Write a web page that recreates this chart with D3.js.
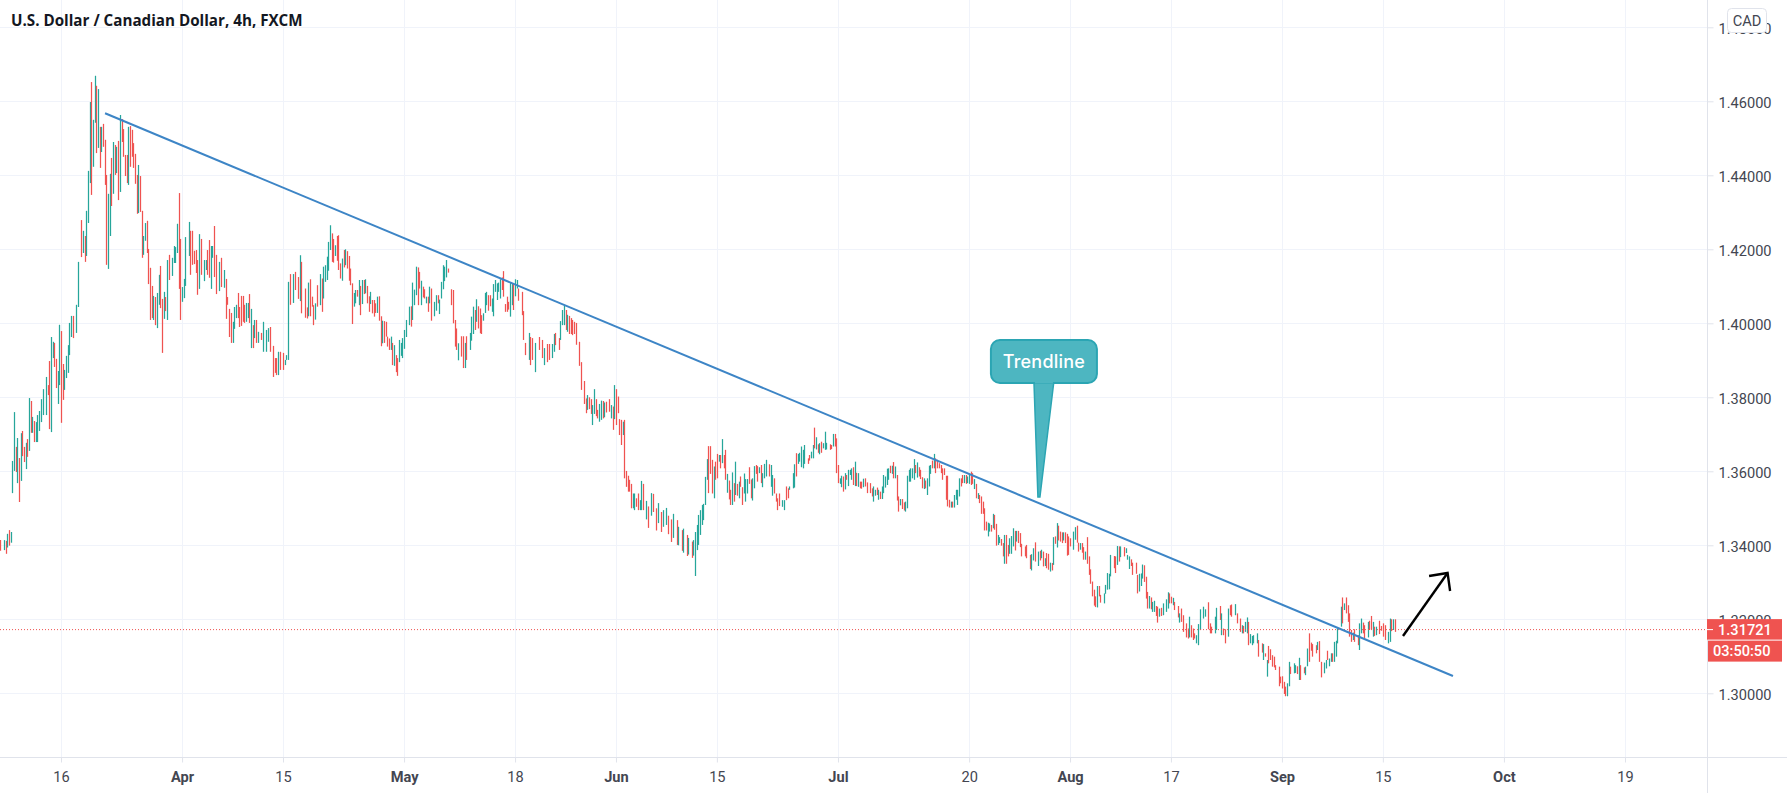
<!doctype html>
<meta charset="utf-8"/>
<title>USDCAD 4h</title>
<style>
body { margin: 0; background: #fff; }
text { font-family: Roboto, sans-serif; }
</style>
<svg id="chart" width="1787" height="793"></svg>
<script src="https://cdn.jsdelivr.net/npm/d3@7"></script>
<script>
// bar rows: [bar number, high, low, up] - prices in pips above 1.0000
var marchBars = [[0,3414,3385,0],[2,3414,3387,1],[3,3412,3377,0],[4,3431,3394,1],[5,3441,3399,0],[6,3436,3407,1],[7,3628,3541,1],[8,3760,3601,1],[9,3666,3598,0],[10,3690,3568,1],[11,3636,3517,0],[12,3703,3574,1],[13,3709,3641,0],[14,3666,3625,0],[15,3677,3606,1],[16,3687,3639,0],[17,3798,3655,1],[18,3790,3704,0],[19,3747,3704,1],[20,3736,3679,0],[21,3733,3679,1],[22,3752,3679,1],[23,3763,3709,1],[24,3795,3733,1],[25,3822,3752,1],[27,3855,3752,1],[28,3833,3806,0],[29,3898,3714,0],[30,3963,3706,1],[31,3950,3906,1],[32,3947,3882,0],[33,3904,3825,0],[34,3871,3782,1],[35,3996,3833,1],[36,3979,3731,0],[37,3890,3793,0],[38,3874,3820,1],[39,3912,3852,1],[40,3941,3866,1],[41,4001,3914,1],[42,4020,3963,1],[43,4020,3960,0],[45,4050,3974,1],[46,4166,4044,1],[48,4279,4179,0],[49,4250,4190,1],[50,4236,4166,0],[51,4304,4182,1],[52,4412,4271,1],[53,4598,4379,1],[54,4652,4347,0],[55,4550,4423,1],[56,4669,4542,1],[57,4642,4460,0],[58,4633,4474,1],[59,4531,4420,0],[60,4531,4463,1],[61,4539,4477,0],[62,4496,4374,0],[63,4401,4158,0],[64,4350,4147,1],[65,4404,4236,1],[66,4447,4317,0],[67,4490,4350,1],[68,4482,4401,0],[69,4477,4406,1],[70,4493,4333,0],[71,4563,4355,1],[72,4552,4490,0],[73,4525,4450,0],[74,4455,4398,0],[75,4455,4379,0],[76,4531,4374,1],[77,4533,4423,0],[78,4523,4450,0],[79,4487,4420,0],[80,4458,4377,0],[81,4401,4296,0],[82,4428,4298,1],[83,4398,4301,0],[84,4304,4177,0],[85,4236,4185,1],[86,4271,4223,1],[87,4277,4190,0],[88,4201,4106,0],[89,4150,4009,0],[90,4101,4014,0],[91,4074,4009,1],[92,4071,3995,0],[93,4082,3987,1],[94,4131,4050,1],[95,4155,4041,0],[96,4066,3920,0],[97,4085,4012,1],[98,4071,4033,0],[99,4171,4009,1],[100,4185,4117,0],[102,4177,4128,1],[103,4209,4163,1],[104,4206,4163,1],[105,4269,4190,1],[106,4352,4093,0],[107,4228,4009,0]];
var aprilBars = [[108,4098,4058,1],[109,4120,4068,1],[110,4233,4101,1],[112,4274,4182,1],[113,4250,4131,0],[114,4250,4158,0],[115,4196,4160,0],[116,4198,4136,0],[117,4171,4077,0],[118,4241,4093,1],[119,4228,4131,0],[121,4171,4114,1],[122,4171,4144,1],[123,4198,4131,0],[124,4225,4123,0],[125,4209,4093,1],[126,4209,4177,1],[127,4263,4125,0],[128,4185,4079,0],[130,4166,4087,1],[131,4177,4098,0],[133,4144,4096,1],[134,4120,4012,0],[135,4071,4050,0],[136,4039,3963,0],[137,4028,3947,0],[138,4004,3947,1],[139,4044,3985,1],[140,4050,4014,1],[141,4082,4014,0],[142,4044,3990,0],[143,4074,3993,0],[144,4074,4004,0],[145,4050,4001,0],[146,4055,4004,1],[147,4055,4014,1],[148,4079,4001,0],[149,4039,3933,1],[150,3995,3933,0],[151,4009,3960,1],[152,4009,3947,0],[153,3977,3947,1],[155,3974,3955,0],[156,4004,3923,1],[158,3982,3923,1],[159,3987,3950,1],[160,3990,3923,0],[162,3939,3855,0],[163,3906,3866,0],[164,3906,3860,0],[165,3923,3860,1],[166,3923,3874,0],[168,3920,3874,0],[169,3901,3887,1],[170,3914,3901,1],[171,4112,3901,1],[172,4133,4050,0],[174,4133,4055,1],[175,4139,4090,0],[177,4125,4066,0],[178,4184,4060,1],[179,4166,4027,0],[181,4094,4015,0],[182,4043,4013,0],[183,4110,4019,1],[184,4119,4019,0],[185,4072,4045,0],[186,4049,3995,0],[187,4054,4010,1],[188,4103,4045,0],[190,4133,4049,1],[191,4121,4031,0],[192,4153,4067,1],[193,4157,4112,1],[194,4180,4117,1],[195,4220,4142,1],[196,4265,4198,1],[197,4243,4166,0],[198,4228,4164,0],[199,4211,4182,1],[200,4236,4169,0],[201,4238,4144,0],[202,4162,4121,0],[203,4175,4115,1],[204,4198,4151,0],[205,4200,4157,1],[206,4195,4148,0],[207,4182,4115,0],[208,4148,4103,0],[209,4108,3998,0],[210,4082,4045,1],[211,4090,4054,1],[212,4090,4072,0],[213,4117,4049,1],[214,4101,4022,0],[215,4117,4052,1],[216,4117,4079,0],[217,4119,4081,1],[218,4101,4054,0],[219,4073,4031,0],[220,4085,4052,1],[221,4063,4027,0],[222,4063,4018,0],[223,4054,4028,0],[224,4072,4028,1],[225,4073,4007,0],[226,4019,3938,0],[227,4007,3946,1],[228,4006,3947,0],[229,4004,3964,0],[230,3964,3937,0],[231,3959,3928,0],[232,3964,3928,1],[233,3947,3887,0],[234,3941,3885,1],[235,3914,3868,0],[236,3906,3858,0],[237,3955,3895,1],[238,3947,3912,1],[239,3960,3906,1]];
var mayBars = [[240,3982,3931,1],[241,4009,3963,1],[243,4045,3995,1],[244,4046,3991,0],[245,4110,4009,1],[246,4091,4049,1],[247,4153,4076,1],[248,4151,4049,0],[249,4139,4094,0],[250,4115,4049,1],[251,4099,4070,0],[252,4092,4067,0],[253,4072,4054,1],[254,4072,4031,0],[255,4099,4054,1],[256,4094,4007,0],[258,4058,4019,1],[259,4076,4034,1],[260,4076,4054,0],[261,4064,4025,1],[262,4112,4067,1],[263,4157,4092,1],[264,4153,4114,1],[265,4171,4124,1],[266,4148,4137,0],[268,4092,4049,0],[269,4090,4000,0],[270,4009,3937,0],[271,3986,3928,0],[272,3946,3900,1],[274,3965,3910,0],[275,3965,3879,0],[276,3947,3879,1],[277,3965,3901,0],[279,3974,3928,1],[280,4018,3953,1],[281,4045,3971,1],[282,4036,3982,0],[283,4065,4004,1],[284,4046,3986,0],[285,4040,3973,0],[286,4022,3971,0],[287,4027,4007,1],[288,4082,4028,1],[289,4085,4049,1],[290,4076,4034,0],[291,4076,4046,0],[292,4067,4031,1],[293,4106,4019,1],[294,4117,4085,1],[295,4108,4063,1],[296,4110,4085,1],[297,4119,4067,1],[298,4124,4090,0],[299,4141,4072,0],[300,4052,4031,0],[301,4072,4031,0],[302,4058,4037,0],[303,4110,4018,1],[304,4108,4049,1],[305,4108,4036,0],[306,4119,4073,1],[307,4117,4094,1],[308,4094,4061,0],[310,4085,4022,0],[311,4033,3955,0],[312,3947,3914,0],[314,3974,3901,1],[315,3963,3887,0],[316,3960,3901,0],[318,3947,3868,1],[320,3963,3928,0],[322,3955,3906,0],[323,3933,3887,1],[325,3944,3895,0],[326,3944,3901,0],[328,3944,3906,1],[329,3971,3923,1],[330,3974,3941,0],[332,3960,3928,0],[333,4006,3955,1],[334,4036,3995,1],[335,4050,3995,1],[336,4036,3982,0],[337,4023,3977,1],[338,4020,3971,0],[339,4014,3971,0],[340,4009,3968,0],[341,4004,3971,0],[342,4001,3942,0],[344,3950,3885,0],[345,3895,3820,0],[347,3844,3782,0],[348,3797,3757,0],[349,3806,3766,1],[350,3800,3768,0],[351,3795,3755,0],[352,3779,3725,1],[353,3822,3755,1],[354,3795,3749,0],[355,3766,3743,0],[356,3782,3734,1],[357,3791,3739,1],[358,3790,3743,0],[359,3786,3746,1],[360,3788,3759,0],[362,3795,3761,0],[363,3779,3743,1],[364,3775,3712,0],[365,3833,3741,1]];
var juneBars = [[366,3822,3725,0],[367,3802,3757,0],[368,3741,3698,0],[369,3739,3671,0],[370,3734,3698,1],[371,3739,3581,0],[372,3601,3558,0],[373,3588,3545,0],[374,3577,3545,0],[375,3566,3500,0],[376,3540,3500,1],[377,3540,3495,1],[378,3527,3504,0],[379,3540,3495,0],[380,3522,3495,1],[381,3574,3495,1],[382,3566,3495,0],[384,3520,3470,1],[385,3505,3447,0],[387,3541,3480,1],[388,3539,3490,0],[390,3500,3440,0],[391,3514,3460,1],[393,3490,3436,0],[394,3495,3450,1],[396,3501,3455,1],[397,3480,3430,0],[399,3470,3409,0],[400,3485,3420,1],[402,3468,3401,0],[403,3450,3400,1],[405,3441,3385,0],[406,3445,3380,1],[408,3428,3371,0],[409,3420,3375,1],[411,3410,3366,0],[412,3414,3372,1],[413,3436,3317,1],[414,3455,3387,1],[415,3482,3401,1],[416,3495,3428,1],[417,3509,3455,1],[418,3512,3468,1],[419,3585,3509,1],[420,3633,3577,1],[421,3668,3541,0],[422,3668,3593,0],[423,3631,3540,0],[424,3613,3527,1],[425,3626,3577,0],[426,3647,3581,0],[427,3644,3626,1],[428,3644,3608,0],[429,3687,3622,1],[430,3644,3608,0],[431,3658,3577,0],[432,3593,3542,1],[433,3575,3524,0],[434,3550,3509,0],[435,3597,3509,1],[436,3568,3518,0],[437,3626,3536,1],[438,3566,3534,0],[439,3572,3527,1],[440,3586,3558,0],[441,3557,3509,0],[442,3594,3540,1],[443,3579,3518,1],[444,3579,3540,1],[445,3611,3566,0],[446,3578,3527,0],[447,3581,3521,1],[448,3614,3554,1],[449,3617,3593,0],[450,3614,3572,0],[451,3611,3595,1],[452,3617,3568,0],[453,3595,3557,1],[454,3620,3581,1],[455,3631,3586,1],[457,3619,3586,0],[458,3617,3558,1],[459,3590,3534,1],[460,3581,3540,0],[461,3540,3518,0],[462,3527,3495,0],[463,3540,3506,0],[465,3522,3504,1],[466,3522,3495,1],[467,3559,3522,0],[468,3554,3527,0],[469,3559,3550,1],[471,3595,3554,1],[472,3619,3556,1],[473,3649,3586,0],[474,3647,3620,1],[475,3650,3626,1],[476,3667,3611,1],[477,3658,3608,1],[478,3671,3620,1],[480,3635,3620,0],[481,3644,3629,0],[482,3653,3635,1],[483,3671,3635,1],[484,3718,3662,0],[485,3692,3659,1],[486,3673,3650,0],[487,3676,3646,1],[488,3680,3650,0],[489,3676,3662,1],[490,3707,3658,1],[491,3677,3659,1],[493,3673,3658,0],[494,3671,3660,0],[495,3701,3667,1],[496,3701,3667,0],[497,3689,3595,0]];
var julyBars = [[498,3617,3568,0],[499,3581,3566,1],[500,3588,3557,1],[501,3586,3545,0],[502,3595,3551,1],[503,3590,3577,0],[504,3604,3560,1],[505,3604,3590,1],[506,3608,3577,1],[507,3611,3563,0],[508,3626,3560,1],[509,3596,3560,0],[510,3595,3558,1],[511,3572,3554,0],[512,3572,3553,0],[513,3580,3557,1],[514,3581,3559,0],[515,3570,3541,0],[517,3568,3541,0],[518,3554,3532,0],[519,3559,3518,1],[520,3550,3534,1],[521,3556,3536,0],[522,3550,3523,1],[523,3545,3525,0],[524,3559,3525,1],[525,3590,3541,1],[526,3586,3556,1],[527,3607,3563,1],[528,3608,3577,1],[529,3615,3595,0],[530,3615,3593,1],[531,3625,3581,0],[532,3613,3581,1],[533,3590,3521,0],[534,3532,3491,0],[535,3525,3508,1],[536,3525,3498,0],[537,3516,3494,0],[538,3518,3491,1],[539,3588,3500,1],[540,3604,3572,1],[541,3608,3572,1],[542,3608,3581,1],[543,3633,3577,1],[544,3617,3595,0],[545,3624,3583,1],[546,3611,3586,0],[547,3604,3579,0],[548,3584,3554,0],[549,3581,3552,1],[550,3575,3554,0],[551,3581,3536,1],[552,3615,3559,1],[553,3617,3593,1],[554,3629,3608,0],[555,3647,3608,1],[556,3635,3595,0],[557,3631,3608,0],[558,3622,3608,0],[559,3617,3595,0],[560,3608,3577,0],[561,3608,3590,0],[562,3588,3523,0],[563,3588,3505,0],[564,3523,3502,0],[565,3518,3502,1],[566,3518,3502,0],[567,3536,3502,1],[568,3550,3523,1],[569,3550,3509,1],[570,3581,3532,1],[571,3581,3559,0],[572,3590,3568,0],[573,3590,3568,1],[574,3590,3566,0],[575,3586,3568,1],[576,3590,3566,1],[577,3599,3563,0],[578,3595,3566,0],[579,3579,3552,1],[580,3566,3527,0],[581,3541,3525,1],[582,3536,3514,0],[583,3532,3485,0],[584,3518,3485,0],[585,3500,3440,0],[586,3464,3440,0],[587,3461,3424,1],[588,3459,3437,1],[589,3455,3437,0],[590,3485,3446,1],[591,3482,3442,0],[592,3458,3399,0],[593,3428,3401,1],[594,3422,3406,1],[595,3417,3399,0],[596,3406,3370,0],[597,3428,3350,1],[598,3428,3350,0],[599,3401,3370,0],[600,3419,3377,1],[601,3425,3377,1],[602,3446,3397,1],[603,3439,3386,0],[604,3439,3410,1],[605,3439,3406,0],[606,3433,3395,0],[607,3404,3370,0],[609,3397,3370,0],[610,3401,3365,0],[612,3374,3336,0],[613,3376,3332,1],[614,3392,3359,1],[615,3408,3356,0],[617,3383,3344,1],[618,3385,3359,0],[619,3388,3365,1],[620,3383,3343,0],[621,3365,3344,1],[622,3379,3338,0],[623,3377,3334,0],[624,3353,3329,1],[625,3352,3332,0],[626,3422,3347,1],[627,3424,3404,0],[628,3460,3394,1],[629,3453,3413,0],[630,3437,3410,0],[631,3435,3406,0],[632,3435,3413,1],[633,3435,3406,0],[634,3431,3372,0],[635,3424,3374,0]];
var augustBars = [[636,3419,3397,0],[638,3437,3388,1],[639,3449,3415,1],[640,3453,3407,0],[641,3407,3383,0],[642,3406,3388,1],[643,3406,3380,0],[644,3395,3361,0],[645,3383,3361,1],[646,3422,3350,0],[647,3370,3320,0],[648,3335,3296,0],[649,3302,3262,0],[650,3280,3237,0],[651,3262,3233,0],[652,3290,3232,1],[653,3290,3262,0],[654,3266,3245,0],[656,3270,3243,1],[657,3293,3269,1],[658,3325,3280,1],[659,3323,3281,1],[660,3374,3316,1],[662,3371,3338,0],[663,3370,3325,0],[664,3398,3347,1],[665,3397,3356,0],[666,3397,3368,1],[668,3395,3370,0],[669,3392,3379,1],[670,3374,3361,1],[671,3370,3336,1],[672,3362,3344,0],[673,3353,3320,0],[675,3353,3323,0],[676,3320,3270,0],[677,3323,3275,1],[678,3324,3290,1],[679,3348,3310,1],[680,3346,3301,0],[681,3315,3256,0],[682,3274,3229,0],[683,3263,3229,1],[684,3259,3227,0],[685,3247,3220,1],[686,3250,3220,1],[687,3236,3209,0],[688,3234,3191,0],[689,3229,3207,1],[690,3231,3209,0],[691,3243,3211,1],[693,3254,3220,1],[694,3273,3229,1],[695,3270,3243,0],[696,3261,3243,0],[697,3258,3238,1],[698,3247,3225,0],[700,3236,3205,0],[701,3216,3191,1],[702,3229,3193,0],[703,3211,3166,0],[705,3189,3151,0],[706,3175,3148,0],[707,3207,3151,1],[708,3184,3151,0],[709,3175,3144,0],[710,3162,3148,0],[711,3157,3135,1],[712,3187,3130,1],[713,3227,3171,1],[715,3234,3202,1],[716,3227,3207,1],[718,3246,3173,0],[719,3189,3162,0],[720,3180,3162,0],[722,3207,3162,1],[723,3231,3171,1],[725,3236,3198,0],[726,3216,3157,1],[727,3175,3157,0],[728,3173,3135,0],[730,3229,3153,1],[731,3238,3211,0],[732,3240,3207,0],[734,3241,3211,1],[735,3216,3189,0],[737,3202,3166,0],[738,3184,3162,1],[739,3182,3162,0],[740,3193,3166,1],[741,3205,3162,1],[742,3193,3130,0],[743,3160,3135,1],[744,3155,3130,1],[745,3157,3135,1],[747,3162,3135,1],[748,3144,3099,0],[750,3135,3110,0],[751,3133,3090,1],[752,3108,3099,0],[753,3090,3045,1],[754,3128,3081,0],[755,3119,3090,0],[756,3103,3072,0],[757,3099,3070,0],[758,3076,3063,0],[760,3072,3019,0],[761,3045,3027,0]];
var septemberBars = [[762,3046,3013,0],[763,3031,2998,0],[764,3018,2992,0],[765,3027,2992,1],[766,3085,3019,1],[767,3072,3052,0],[769,3081,3054,1],[770,3076,3055,1],[771,3073,3052,0],[772,3096,3036,1],[773,3076,3036,0],[775,3070,3054,0],[776,3072,3049,1],[777,3121,3073,1],[778,3162,3085,0],[779,3137,3115,0],[780,3133,3099,0],[782,3130,3108,0],[783,3139,3117,1],[784,3141,3085,0],[785,3085,3043,0],[787,3083,3054,1],[788,3090,3067,1],[789,3115,3090,0],[790,3094,3073,1],[791,3108,3085,1],[792,3108,3085,0],[793,3139,3085,1],[794,3142,3099,1],[795,3175,3135,1],[797,3234,3180,1],[798,3259,3189,0],[799,3243,3225,1],[800,3259,3216,0],[801,3238,3193,0],[802,3216,3153,0],[803,3171,3139,0],[804,3164,3144,1],[805,3173,3139,0],[807,3157,3130,0],[808,3189,3117,1],[809,3202,3162,1],[810,3191,3162,0],[811,3184,3148,0],[813,3193,3151,1],[814,3196,3171,0],[815,3209,3173,0],[816,3193,3153,1],[817,3180,3155,0],[818,3180,3157,1],[820,3196,3160,0],[821,3182,3169,0],[822,3189,3153,0],[823,3184,3144,0],[825,3166,3135,1],[826,3202,3139,1],[827,3200,3168,0],[828,3200,3171,1],[829,3200,3166,0]];

var priceTicks = [1.30, 1.32, 1.34, 1.36, 1.38, 1.40, 1.42, 1.44, 1.46, 1.48];
var dateLabels = ["16", "Apr", "15", "May", "18", "Jun", "15", "Jul", "20", "Aug", "17", "Sep", "15", "Oct", "19"];
var dateBars = [36, 108, 168, 240, 306, 366, 426, 498, 576, 636, 696, 762, 822, 894, 966];
var months = ["Apr", "May", "Jun", "Jul", "Aug", "Sep", "Oct"];

var lastPrice = 1.31721;
var countdown = "03:50:50";

// drawings, as [bar number, price]
var trendline = [[62.2, 1.45676], [863.7, 1.30468]];
var arrowShaft = [[834, 1.31549], [860.5, 1.33251]];
var arrowHead = [[849.5, 1.33170], [860.5, 1.33251], [862, 1.32765]];
var calloutTip = [617.5, 1.35305];

var bars = [].concat(marchBars, aprilBars, mayBars, juneBars, julyBars, augustBars, septemberBars);

var W = 1787, H = 793, axisX = 1707, axisY = 757;
var svg = d3.select("#chart");

var x = d3.scaleLinear().domain([36, 966]).range([61, 1625]);
var y = d3.scaleLinear().domain([1.28278, 1.48738]).range([axisY, 0]);
var line = d3.line().x(function(d) { return x(d[0]); }).y(function(d) { return y(d[1]); });

var UP = "#26a69a", DOWN = "#ef5350", GRID = "#f0f3fa", AXIS = "#e0e3eb", TEXT = "#434651";

// grid
svg.append("g").selectAll("line").data(priceTicks).join("line")
  .attr("x1", 0).attr("x2", axisX)
  .attr("y1", function(d) { return Math.round(y(d)) + 0.5; })
  .attr("y2", function(d) { return Math.round(y(d)) + 0.5; })
  .attr("stroke", GRID);
svg.append("g").selectAll("line").data(dateBars).join("line")
  .attr("x1", function(d) { return Math.round(x(d)) + 0.5; })
  .attr("x2", function(d) { return Math.round(x(d)) + 0.5; })
  .attr("y1", 0).attr("y2", axisY)
  .attr("stroke", GRID);

// candles, too narrow here to show a body apart from the wick
svg.append("g").selectAll("line").data(bars).join("line")
  .attr("x1", function(d) { return Math.round(x(d[0])) + 0.5; })
  .attr("x2", function(d) { return Math.round(x(d[0])) + 0.5; })
  .attr("y1", function(d) { return y(1 + d[1] / 10000); })
  .attr("y2", function(d) { return y(1 + d[2] / 10000); })
  .attr("stroke", function(d) { return d[3] ? UP : DOWN; })
  .attr("stroke-width", 1.25);

// last price line
svg.append("line")
  .attr("x1", 0).attr("x2", axisX)
  .attr("y1", y(lastPrice)).attr("y2", y(lastPrice))
  .attr("stroke", DOWN)
  .attr("stroke-dasharray", "1 2");

// trendline and arrow
svg.append("path").attr("d", line(trendline))
  .attr("fill", "none").attr("stroke", "#3d85c6").attr("stroke-width", 2);
svg.append("path").attr("d", line(arrowShaft))
  .attr("fill", "none").attr("stroke", "#000").attr("stroke-width", 2.4);
svg.append("path").attr("d", line(arrowHead))
  .attr("fill", "none").attr("stroke", "#000").attr("stroke-width", 2.4);

// callout
var tipX = x(calloutTip[0]), tipY = y(calloutTip[1]);
var callout = svg.append("g").attr("transform", "translate(" + tipX + "," + tipY + ")");
callout.append("path")
  .attr("d", "M-5,-116 L15,-116 L1,0 L-1,0 Z")
  .attr("fill", "#4db6c1").attr("stroke", "#2ba5b3").attr("stroke-width", 1.5);
callout.append("rect")
  .attr("x", -48).attr("y", -157).attr("width", 106).attr("height", 43).attr("rx", 9)
  .attr("fill", "#4db6c1").attr("stroke", "#2ba5b3").attr("stroke-width", 2);
callout.append("path")
  .attr("d", "M-4,-115 L14,-115").attr("stroke", "#4db6c1").attr("stroke-width", 3);
callout.append("text")
  .attr("x", 5).attr("y", -129)
  .attr("text-anchor", "middle")
  .attr("fill", "#fff")
  .style("font-family", "Inter")
  .style("font-weight", 500)
  .style("font-size", "18px")
  .style("letter-spacing", "0.2px")
  .text("Trendline");

// price axis
svg.append("line").attr("x1", axisX + 0.5).attr("x2", axisX + 0.5).attr("y1", 0).attr("y2", H).attr("stroke", AXIS);
var yAxis = d3.axisRight(y).tickValues(priceTicks).tickSize(6).tickPadding(5).tickFormat(d3.format(".5f"));
var yg = svg.append("g").attr("transform", "translate(" + (axisX + 0.5) + ",0)").call(yAxis);
yg.select(".domain").remove();
yg.selectAll("line").attr("stroke", AXIS);
yg.selectAll("text").attr("fill", TEXT).attr("dy", "0.42em").style("font-size", "14.6px");

// date axis
svg.append("line").attr("x1", 0).attr("x2", W).attr("y1", axisY + 0.5).attr("y2", axisY + 0.5).attr("stroke", AXIS);
var xAxis = d3.axisBottom(x).tickValues(dateBars).tickSize(5).tickPadding(9)
  .tickFormat(function(d, i) { return dateLabels[i]; });
var xg = svg.append("g").attr("transform", "translate(0," + (axisY + 0.5) + ")").call(xAxis);
xg.select(".domain").remove();
xg.selectAll("line").attr("stroke", AXIS);
xg.selectAll("text").attr("fill", TEXT).style("font-size", "14.6px")
  .style("font-weight", function(d, i) { return months.indexOf(dateLabels[i]) >= 0 ? 700 : 400; });

// last price and countdown tags
svg.append("rect").attr("x", axisX).attr("y", y(lastPrice) - 10.5).attr("width", 75).attr("height", 20.5).attr("fill", DOWN);
svg.append("rect").attr("x", axisX + 1).attr("y", y(lastPrice) + 11).attr("width", 74).attr("height", 21).attr("fill", DOWN);
svg.append("line").attr("x1", axisX).attr("x2", axisX + 6).attr("y1", y(lastPrice)).attr("y2", y(lastPrice)).attr("stroke", "#fff");
svg.append("text").attr("x", axisX + 11).attr("y", y(lastPrice) + 5.3).attr("fill", "#fff")
  .style("font-size", "14.6px").style("font-weight", 500).text(d3.format(".5f")(lastPrice));
svg.append("text").attr("x", axisX + 6).attr("y", y(lastPrice) + 26.5).attr("fill", "#fff")
  .style("font-size", "14.6px").style("font-weight", 500).text(countdown);

// currency badge
svg.append("rect").attr("x", 1727.5).attr("y", 8.5).attr("width", 39).attr("height", 24).attr("rx", 4)
  .attr("fill", "#fff").attr("stroke", AXIS);
svg.append("text").attr("x", 1747).attr("y", 25.5).attr("text-anchor", "middle").attr("fill", TEXT)
  .style("font-size", "14.6px").text("CAD");

// title
svg.append("text").attr("x", 11).attr("y", 25.5).attr("fill", "#131722")
  .style("font-family", "'Open Sans'")
  .style("font-weight", 700)
  .style("font-size", "15.2px")
  .text("U.S. Dollar / Canadian Dollar, 4h, FXCM");
</script>
